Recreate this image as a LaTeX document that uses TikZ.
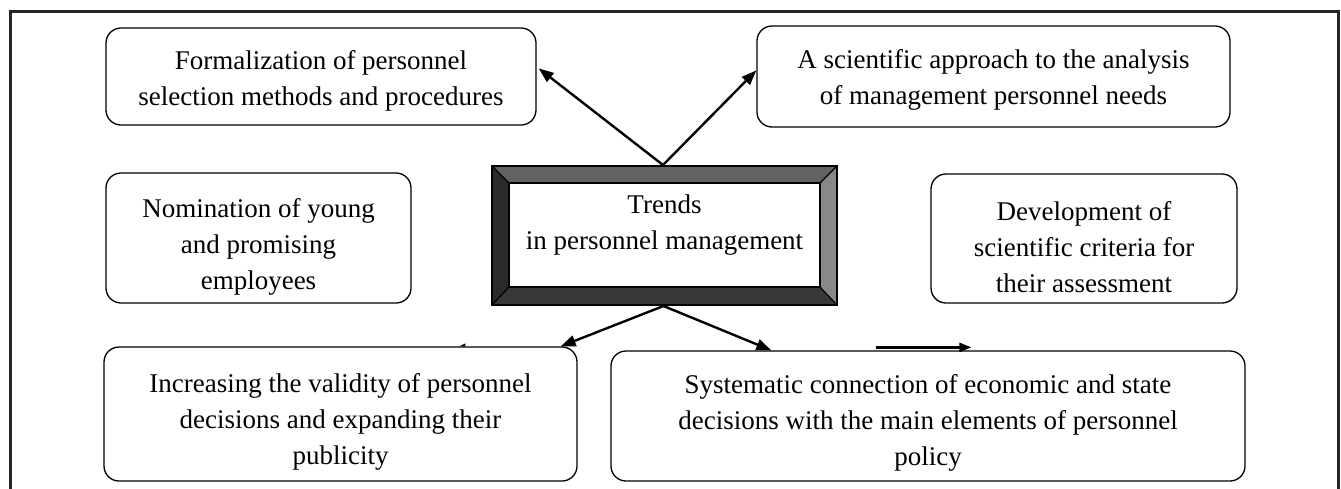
\documentclass[tikz,border=0pt]{standalone}
\usepackage{fontspec}
\setmainfont{Liberation Serif}
\usetikzlibrary{arrows.meta,calc}
\definecolor{bvtop}{HTML}{606364}
\definecolor{bvleft}{HTML}{282A2C}
\definecolor{bvright}{HTML}{86888A}
\definecolor{bvbot}{HTML}{36383A}
\begin{document}
\begin{tikzpicture}[x=1pt,y=-1pt,
  box/.style={draw,line width=1.3pt,rounded corners=15pt,inner sep=0pt},
  txt/.style={align=center,inner sep=0pt,font=\fontsize{27}{36}\selectfont},
  arr/.style={line width=2.4pt,-{Triangle[length=15pt,width=11pt]}}]
\useasboundingbox (0,0) rectangle (1341,488);
% outer frame
\draw[line width=3pt,color=black!85] (10,495) -- (10,11) -- (1338,11) -- (1338,495);
% boxes
\node[box,minimum width=430pt,minimum height=97pt] (b1) at (321,76.5) {};
\node[txt,yshift=-4pt] (t1) at (b1.center) {Formalization of personnel\\selection methods and procedures};
\node[box,minimum width=473pt,minimum height=101pt] (b2) at (993.5,76.5) {};
\node[txt,yshift=-3pt] (t2) at (b2.center) {A scientific approach to the analysis\\of management personnel needs};
\node[box,minimum width=305pt,minimum height=130pt] (b3) at (258.5,238) {};
\node[txt,yshift=-9pt] (t3) at (b3.center) {Nomination of young\\and promising\\employees};
\node[box,minimum width=306pt,minimum height=129pt] (b4) at (1084,238.5) {};
\node[txt,yshift=-9pt] (t4) at (b4.center) {Development of\\scientific criteria for\\their assessment};
\node[box,minimum width=473pt,minimum height=134pt] (b6) at (340.5,414) {};
\node[txt,yshift=-7.5pt] (t6) at (b6.center) {Increasing the validity of personnel\\decisions and expanding their\\publicity};
\node[box,minimum width=634pt,minimum height=130pt] (b7) at (928,416) {};
\node[txt,yshift=-6.5pt] (t7) at (b7.center) {Systematic connection of economic and state\\decisions with the main elements of personnel\\policy};
% central bevelled box
\coordinate (o1) at (492,166); \coordinate (o2) at (837,166);
\coordinate (o3) at (837,305); \coordinate (o4) at (492,305);
\coordinate (i1) at (509,183); \coordinate (i2) at (820,183);
\coordinate (i3) at (820,287); \coordinate (i4) at (509,287);
\fill[bvtop] (o1) -- (o2) -- (i2) -- (i1) -- cycle;
\fill[bvright] (o2) -- (o3) -- (i3) -- (i2) -- cycle;
\fill[bvbot] (o3) -- (o4) -- (i4) -- (i3) -- cycle;
\fill[bvleft] (o4) -- (o1) -- (i1) -- (i4) -- cycle;
\draw[line width=1.2pt] (o1) -- (i1) (o2) -- (i2) (o3) -- (i3) (o4) -- (i4);
\draw[line width=1.2pt,fill=white] (i1) rectangle (i3);
\node[draw,line width=2pt,minimum width=345pt,minimum height=139pt,inner sep=0pt] (c) at (664.5,235.5) {};
\node[txt] (ct) at (664.5,225) {Trends\\in personnel management};
% connectors
\draw[arr] ([xshift=-1.5pt]c.north) -- ([xshift=2pt,yshift=-41pt]b1.north east);
\draw[arr] ([xshift=-1.5pt]c.north) -- ([yshift=-45pt]b2.north west);
\draw[arr] ([xshift=-1pt]c.south) -- ([xshift=-17pt]b6.north east);
\draw[arr] ([xshift=-1pt]c.south) -- ([xshift=161pt]b7.north west);
% stray marks on the box tops
\coordinate (s1) at ([xshift=356pt]b6.north west);
\fill (s1) -- ++(6,-3) -- ++(0,3) -- cycle;
\coordinate (s2) at ([xshift=266pt,yshift=3pt]b7.north west);
\coordinate (s3) at ([xshift=361pt,yshift=3pt]b7.north west);
\draw[line width=2.4pt,-{Triangle[length=12pt,width=9pt]}] (s2) -- (s3);
\end{tikzpicture}
\end{document}
